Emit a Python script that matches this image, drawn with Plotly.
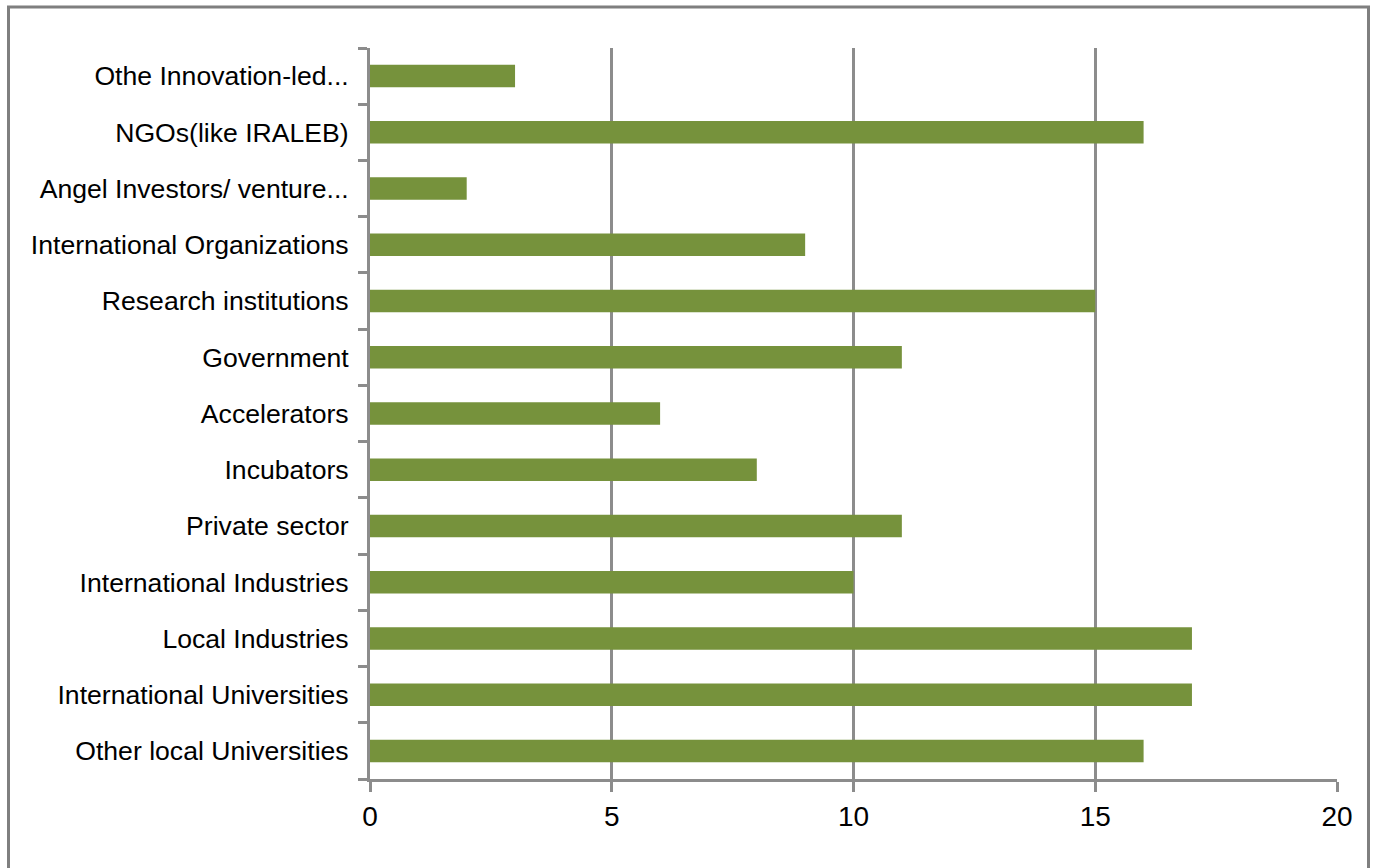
import plotly.graph_objects as go

categories = [
    "Other local Universities",
    "International Universities",
    "Local Industries",
    "International Industries",
    "Private sector",
    "Incubators",
    "Accelerators",
    "Government",
    "Research institutions",
    "International Organizations",
    "Angel Investors/ venture...",
    "NGOs(like IRALEB)",
    "Othe Innovation-led...",
]
values = [16, 17, 17, 10, 11, 8, 6, 11, 15, 9, 2, 16, 3]
x_ticks = [0, 5, 10, 15, 20]

W, H = 1375, 868
L, R, T, B = 370, 1337, 48, 779

fig = go.Figure(go.Bar(
    x=values, y=categories, orientation="h",
    marker=dict(color="#76923C", line=dict(width=0)),
    hoverinfo="x+y",
))

grid_c = "#8C8C8C"
fig.update_layout(
    width=W, height=H,
    margin=dict(l=L, r=W - R, t=T, b=H - B, pad=0),
    paper_bgcolor="white", plot_bgcolor="white",
    bargap=0.6,
    showlegend=False,
    font=dict(family="Liberation Sans, Arial, Helvetica, sans-serif", size=26, color="black"),
    xaxis=dict(
        range=[0, 20], tickvals=x_ticks, ticktext=[str(v) for v in x_ticks],
        showgrid=True, gridcolor=grid_c, gridwidth=3,
        showline=True, linecolor=grid_c, linewidth=3,
        ticks="outside", ticklen=10, tickwidth=3, tickcolor=grid_c,
        ticklabelstandoff=0,
        tickfont=dict(size=28), zeroline=False, fixedrange=True,
    ),
    yaxis=dict(
        type="category", categoryorder="array", categoryarray=categories,
        showgrid=False, showline=True, linecolor=grid_c, linewidth=3,
        ticks="outside", tickson="boundaries", ticklen=9, tickwidth=3, tickcolor=grid_c,
        ticklabelstandoff=13,
        tickfont=dict(size=26.6), zeroline=False, fixedrange=True,
    ),
)

pw, ph = R - L, B - T
def px_x(p): return (p - L) / pw
def px_y(p): return (B - p) / ph

fig.add_shape(type="rect", xref="paper", yref="paper",
              x0=px_x(8.5), x1=px_x(1368.5), y0=px_y(875), y1=px_y(7),
              line=dict(color="#7F7F7F", width=3), fillcolor="rgba(0,0,0,0)", layer="above")

fig.write_html("out.html")
